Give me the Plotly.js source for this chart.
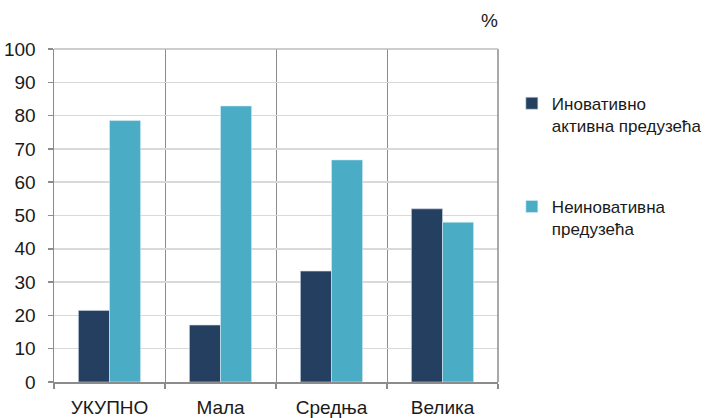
<!DOCTYPE html>
<html>
<head>
<meta charset="utf-8">
<script src="https://cdn.plot.ly/plotly-3.0.1.min.js"></script>
<style>html,body{margin:0;padding:0;background:#fff;}#chart{width:706px;height:418px;}</style>
</head>
<body>
<div id="chart"></div>
<script>
const categories = ["УКУПНО", "Мала", "Средња", "Велика"];
const innovativeName = "Иновативно<br>активна предузећа";
const nonInnovativeName = "Неиновативна<br>предузећа";
const innovative = [21.5, 17.1, 33.3, 52.0];
const nonInnovative = [78.5, 82.9, 66.7, 48.0];
const yTicks = [0, 10, 20, 30, 40, 50, 60, 70, 80, 90, 100];

const FONT = "'Liberation Sans', Arial, sans-serif";

const traces = [
  {type: "bar", x: categories, y: innovative, name: innovativeName, legendgroup: "a",
   marker: {color: "#243f60", line: {color: "#c9d6e6", width: 0.6}}},
  {type: "bar", x: categories, y: nonInnovative, name: nonInnovativeName, legendgroup: "b",
   marker: {color: "#4bacc6", line: {color: "#d6eef5", width: 0.6}}}
];

const layout = {
  width: 706, height: 418,
  margin: {l: 54, r: 208, t: 49, b: 36, autoexpand: false},
  paper_bgcolor: "#fff", plot_bgcolor: "#fff",
  font: {family: FONT, size: 19, color: "#1a1a1a"},
  barmode: "group", bargap: 0.44, bargroupgap: 0,
  showlegend: true,
  legend: {xref: "container", yref: "container", x: 0.725, y: 0.795, xanchor: "left", yanchor: "top", valign: "top",
           traceorder: "grouped", tracegroupgap: 56, itemwidth: 30,
           font: {family: FONT, size: 17, color: "#1a1a1a"}, bgcolor: "rgba(0,0,0,0)"},
  xaxis: {type: "category", tickson: "boundaries", showgrid: true, gridcolor: "#8c8c8c", gridwidth: 1,
          showline: true, linecolor: "#8c8c8c", linewidth: 1.5, mirror: false,
          ticks: "outside", ticklen: 5, tickcolor: "#8c8c8c", tickwidth: 1.5,
          ticklabelstandoff: 8,
          tickfont: {family: FONT, size: 19, color: "#1a1a1a"}, fixedrange: true},
  yaxis: {range: [0, 100], tickvals: yTicks, ticktext: yTicks.map(String),
          showgrid: true, gridcolor: "#d9d9d9", gridwidth: 1.5, zeroline: false,
          showline: true, linecolor: "#8c8c8c", linewidth: 1.5,
          ticks: "outside", ticklen: 5, tickcolor: "#8c8c8c", tickwidth: 1.5,
          ticklabelstandoff: 8,
          tickfont: {family: FONT, size: 19, color: "#1a1a1a"}, fixedrange: true},
  shapes: [
    {type: "line", xref: "paper", yref: "paper", x0: 1, x1: 1, y0: 0, y1: 1,
     line: {color: "#8c8c8c", width: 1.5}},
    {type: "line", xref: "paper", yref: "paper", x0: 0, x1: 1, y0: 1, y1: 1,
     line: {color: "#bdbdbd", width: 1.5}}
  ],
  annotations: [
    {text: "%", xref: "paper", yref: "paper", x: 0.98, y: 1.087, showarrow: false,
     xanchor: "center", yanchor: "middle", font: {family: FONT, size: 19, color: "#1a1a1a"}}
  ]
};

Plotly.newPlot("chart", traces, layout, {displayModeBar: false, staticPlot: true});
</script>
</body>
</html>
